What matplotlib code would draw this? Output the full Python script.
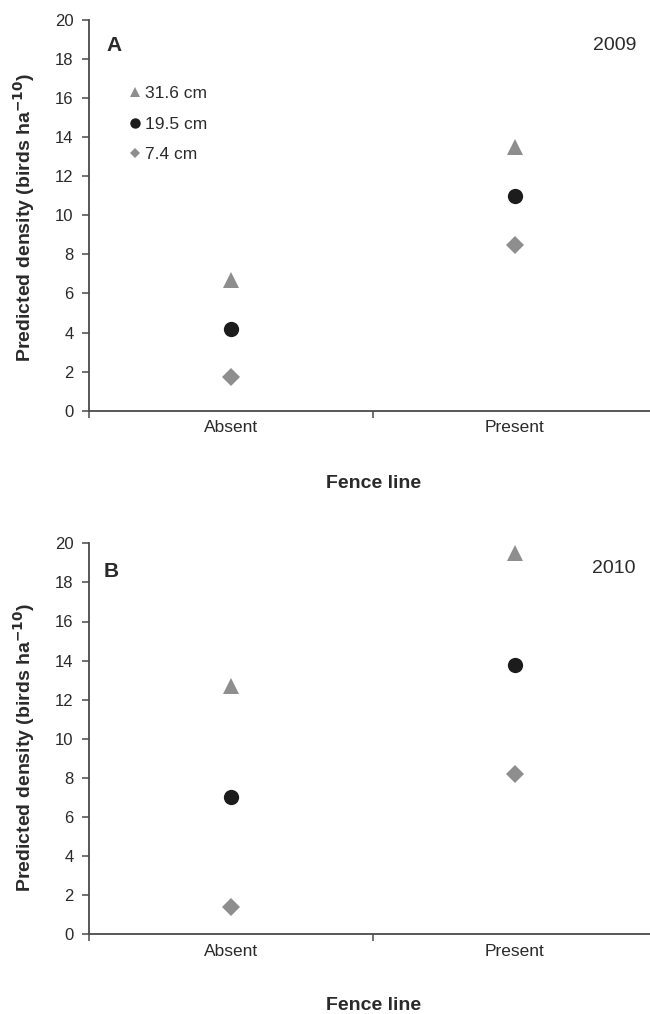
import matplotlib
matplotlib.use("Agg")
import matplotlib.pyplot as plt
from matplotlib.lines import Line2D

plt.rcParams['font.family'] = ['Liberation Sans', 'DejaVu Sans']

categories = ["Absent", "Present"]
series_labels = ["31.6 cm", "19.5 cm", "7.4 cm"]
years = ["2009", "2010"]
panel_letters = ["A", "B"]
# predicted density for Absent, Present
vals_2009 = {"31.6 cm": [6.7, 13.5], "19.5 cm": [4.2, 11.0], "7.4 cm": [1.7, 8.5]}
vals_2010 = {"31.6 cm": [12.7, 19.5], "19.5 cm": [7.0, 13.8], "7.4 cm": [1.4, 8.2]}
panels = [vals_2009, vals_2010]
yticks = [0, 2, 4, 6, 8, 10, 12, 14, 16, 18, 20]

styles = {
    "31.6 cm": dict(marker='^', color='#8e8e8e', ms=11, lms=7),
    "19.5 cm": dict(marker='o', color='#1c1c1c', ms=11, lms=7.5),
    "7.4 cm": dict(marker='D', color='#8e8e8e', ms=9.5, lms=5.5),
}

W, H = 650, 1014
fig = plt.figure(figsize=(W / 100, H / 100), dpi=100)

axes_px = [(89, 20, 657, 410.7), (89, 543.3, 657, 934.3)]
ylabel_cy = [218, 748]
xlabel_y = [484, 1006]

spine_col = '#4a4a4a'
text_col = '#2a2a2a'

for i, (vals, (x0, y0, x1, y1)) in enumerate(zip(panels, axes_px)):
    ax = fig.add_axes([x0 / W, 1 - y1 / H, (x1 - x0) / W, (y1 - y0) / H])
    xs = list(range(len(categories)))
    for lab in series_labels:
        st = styles[lab]
        ax.plot(xs, vals[lab], linestyle='none', marker=st['marker'], color=st['color'],
                markersize=st['ms'], markeredgewidth=0, label=lab)
    ax.set_xlim(-0.5, 1.5)
    ax.set_ylim(0, 20)
    ax.set_yticks(yticks)
    ax.set_yticklabels([str(t) for t in yticks], fontsize=12, color=text_col)
    ax.set_xticks([-0.5, 0.5, 1.5])
    ax.set_xticklabels([])
    ax.set_xticks(xs, minor=True)
    ax.set_xticklabels(categories, minor=True, fontsize=12.5, color=text_col)
    ax.tick_params(axis='x', which='minor', length=0, pad=7)
    ax.tick_params(axis='x', which='major', length=5, width=1.1, color=spine_col, direction='out')
    ax.tick_params(axis='y', length=5, width=1.1, color=spine_col, direction='out', pad=6)
    for s in ['top', 'right']:
        ax.spines[s].set_visible(False)
    for s in ['left', 'bottom']:
        ax.spines[s].set_color(spine_col)
        ax.spines[s].set_linewidth(1.3)
    ax.set_facecolor('none')

    fig.text(24 / W, 1 - ylabel_cy[i] / H, r"Predicted density (birds ha$^{\mathbf{-10}}$)",
             rotation=90, ha='center', va='center', fontsize=14, fontweight='bold', color=text_col)
    fig.text(374 / W, 1 - xlabel_y[i] / H, "Fence line", ha='center', va='center',
             fontsize=14, fontweight='bold', color=text_col)
    ax.text(0.03 if i == 0 else 0.025, 0.935 if i == 0 else 0.928, panel_letters[i],
            transform=ax.transAxes, fontsize=15, fontweight='bold', color=text_col,
            ha='left', va='center')
    ax.text(0.963, 0.935, years[i], transform=ax.transAxes,
            fontsize=14, color=text_col, ha='right', va='center')

    if i == 0:
        handles = [Line2D([], [], linestyle='none', marker=styles[l]['marker'],
                          color=styles[l]['color'], markeredgewidth=0,
                          markersize=styles[l]['lms']) for l in series_labels]
        ax.legend(handles, series_labels, loc='upper left', bbox_to_anchor=(0.0687, 0.831),
                  frameon=False, fontsize=12.5, handlelength=0.8, handletextpad=0.2,
                  labelspacing=0.89, borderaxespad=0, borderpad=0, labelcolor=text_col)

fig.savefig("out.png", dpi=100, facecolor='white')
